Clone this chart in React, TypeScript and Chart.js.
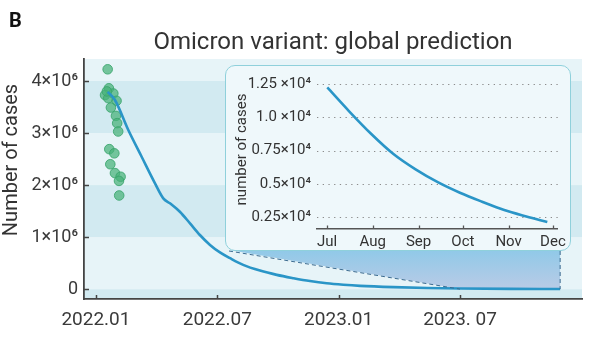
import React, { useEffect, useRef } from "react";
import { Chart, registerables } from "chart.js";

Chart.register(...registerables);

const FONT = "Roboto, 'Noto Sans', 'DejaVu Sans', sans-serif";

// ---------- main chart data (x = months since 2022.01) ----------
const xTickMonths = [0, 6, 12, 18];
const xTickLabels = ["2022.01", "2022.07", "2023.01", "2023. 07"];
const yTickValues = [0, 1000000, 2000000, 3000000, 4000000];
const yTickLabels = ["0", "1×10⁶", "2×10⁶", "3×10⁶", "4×10⁶"];

const fitMonths = [0.58, 0.94, 1.6, 2.26, 2.92, 3.33, 3.66, 4.15, 4.65, 5.14, 5.64, 6.13, 6.63, 7.28, 8.11, 8.94, 9.77, 10.58, 11.41, 12.23, 13.06, 14.7, 16.4, 18.0, 20.5, 22.95];
const fitCases = [3790000, 3635000, 3058000, 2544000, 2033000, 1745000, 1649000, 1487000, 1264000, 1040000, 849000, 705000, 594000, 466000, 356000, 274000, 210000, 155000, 112000, 84000, 63000, 38000, 21000, 12200, 5500, 2200];

const obsMonths = [0.58, 0.64, 0.45, 0.86, 0.61, 1.02, 0.74, 0.99, 1.05, 1.1, 0.66, 0.91, 0.71, 0.94, 1.22, 1.14, 1.15, 0.54];
const obsCases = [4225000, 3860000, 3730000, 3760000, 3670000, 3620000, 3490000, 3330000, 3190000, 3030000, 2690000, 2610000, 2400000, 2230000, 2160000, 2080000, 1800000, 3800000];

const zoomStartMonth = 18;
const zoomEndMonth = 22.95;

// ---------- inset data (x = days since 2023-07-01) ----------
const insetTickDays = [0, 31, 62, 92, 123, 153];
const insetTickLabels = ["Jul", "Aug", "Sep", "Oct", "Nov", "Dec"];
const insetYTicks = [2500, 5000, 7500, 10000, 12500];
const insetYLabels = ["0.25×10⁴", "0.5×10⁴", "0.75×10⁴", "1.0 ×10⁴", "1.25 ×10⁴"];
const insetDays = [0.2, 15, 30, 45, 60, 75, 90, 105, 120, 135, 149.2];
const insetCases = [12234, 10450, 8750, 7250, 6100, 5140, 4350, 3680, 3060, 2580, 2162];

// ---------- layout ----------
const INSET = { left: 225, top: 65, width: 346, height: 186 };
const BAND_LIGHT = "#e7f4f8";
const BAND_DARK = "#d2eaf1";
const LINE_COLOR = "#2a95c7";
const AXIS_COLOR = "#444";

export default function App() {
  const mainRef = useRef<HTMLCanvasElement>(null);
  const insetRef = useRef<HTMLCanvasElement>(null);

  useEffect(() => {
    const mainDecor = {
      id: "mainDecor",
      beforeDraw(chart: any) {
        const { ctx, chartArea: a } = chart;
        const x = chart.scales.x;
        const y = chart.scales.y;
        ctx.save();
        ctx.beginPath();
        ctx.rect(a.left, a.top, a.right - a.left, a.bottom - a.top);
        ctx.clip();
        const step = yTickValues[1] - yTickValues[0];
        for (let v = yTickValues[0] - step; v <= yTickValues[yTickValues.length - 1]; v += step) {
          const k = Math.round(v / step);
          const p0 = y.getPixelForValue(v);
          const p1 = y.getPixelForValue(v + step);
          ctx.fillStyle = k % 2 === 0 ? BAND_LIGHT : BAND_DARK;
          ctx.fillRect(a.left, p1, a.right - a.left, p0 - p1);
        }
        const xa = x.getPixelForValue(zoomStartMonth);
        const xb = x.getPixelForValue(zoomEndMonth);
        const y0 = y.getPixelForValue(0);
        const topY = INSET.top + INSET.height - 1;
        const g = ctx.createLinearGradient(0, topY, 0, y0);
        g.addColorStop(0, "#90c9e8");
        g.addColorStop(1, "#b9cbe6");
        ctx.fillStyle = g;
        ctx.beginPath();
        ctx.moveTo(INSET.left + 4, topY);
        ctx.lineTo(xb, topY);
        ctx.lineTo(xb, y0);
        ctx.lineTo(xa, y0);
        ctx.closePath();
        ctx.fill();
        ctx.restore();
      },
      afterDatasetsDraw(chart: any) {
        const { ctx } = chart;
        const x = chart.scales.x;
        const y = chart.scales.y;
        const xa = x.getPixelForValue(zoomStartMonth);
        const xb = x.getPixelForValue(zoomEndMonth);
        const y0 = y.getPixelForValue(0);
        const bottom = INSET.top + INSET.height;
        ctx.save();
        ctx.strokeStyle = "#3b6b90";
        ctx.lineWidth = 1;
        ctx.setLineDash([4, 3]);
        ctx.beginPath();
        ctx.moveTo(INSET.left + 4, bottom);
        ctx.lineTo(xa, y0);
        ctx.moveTo(xb, bottom);
        ctx.lineTo(xb, y0);
        ctx.stroke();
        ctx.restore();
      },
      afterDraw(chart: any) {
        const { ctx, chartArea: a } = chart;
        const x = chart.scales.x;
        const y = chart.scales.y;
        ctx.save();
        ctx.strokeStyle = AXIS_COLOR;
        ctx.lineWidth = 1.5;
        ctx.beginPath();
        for (const t of x.ticks) {
          const px = Math.round(x.getPixelForValue(t.value)) + 0.5;
          ctx.moveTo(px, a.bottom);
          ctx.lineTo(px, a.bottom - 4);
        }
        for (const t of y.ticks) {
          const py = Math.round(y.getPixelForValue(t.value)) + 0.5;
          ctx.moveTo(a.left, py);
          ctx.lineTo(a.left + 5, py);
        }
        ctx.stroke();
        // title
        ctx.fillStyle = "#333";
        ctx.font = `400 24px ${FONT}`;
        ctx.textAlign = "center";
        ctx.textBaseline = "alphabetic";
        ctx.fillText("Omicron variant: global prediction", (a.left + a.right) / 2, 49);
        // panel letter
        ctx.fillStyle = "#111";
        ctx.font = `700 20px ${FONT}`;
        ctx.textAlign = "left";
        ctx.fillText("B", 9, 27);
        // y title
        ctx.fillStyle = "#333";
        ctx.font = `400 20px ${FONT}`;
        ctx.translate(17, 160);
        ctx.rotate(-Math.PI / 2);
        ctx.textAlign = "center";
        ctx.fillText("Number of cases", 0, 0);
        ctx.restore();
      },
    };

    const main = new Chart(mainRef.current!, {
      type: "scatter",
      data: {
        datasets: [
          {
            type: "line",
            data: fitMonths.map((m, i) => ({ x: m, y: fitCases[i] })),
            borderColor: LINE_COLOR,
            borderWidth: 2.6,
            pointRadius: 0,
            fill: false,
            cubicInterpolationMode: "monotone",
            order: 0,
          } as any,
          {
            type: "scatter",
            data: obsMonths.map((m, i) => ({ x: m, y: obsCases[i] })),
            backgroundColor: "rgba(70,178,120,0.72)",
            borderColor: "rgba(58,165,108,0.85)",
            borderWidth: 1,
            pointRadius: 4.8,
            order: 1,
          } as any,
        ],
      },
      options: {
        responsive: false,
        animation: false,
        layout: { padding: { left: 0, top: 59, right: 18, bottom: 0 } },
        plugins: { legend: { display: false }, tooltip: { enabled: false }, title: { display: false } },
        scales: {
          x: {
            type: "linear",
            min: -0.59,
            max: 24.03,
            afterFit: (s: any) => { s.height = 44; },
            afterBuildTicks: (s: any) => { s.ticks = xTickMonths.map((v) => ({ value: v })); },
            ticks: {
              callback: (v: any) => xTickLabels[xTickMonths.indexOf(Number(v))],
              font: { family: FONT, size: 19 },
              color: "#3a3a3a",
              padding: 10,
              maxRotation: 0,
              autoSkip: false,
            },
            grid: { display: false, drawTicks: false },
            border: { display: true, color: AXIS_COLOR, width: 1.8 },
          },
          y: {
            type: "linear",
            min: -190000,
            max: 4423000,
            afterFit: (s: any) => { s.width = 84; },
            afterBuildTicks: (s: any) => { s.ticks = yTickValues.map((v) => ({ value: v })); },
            ticks: {
              callback: (v: any) => yTickLabels[yTickValues.indexOf(Number(v))],
              font: { family: FONT, size: 18 },
              color: "#3a3a3a",
              padding: 6,
              autoSkip: false,
            },
            grid: { display: false, drawTicks: false },
            border: { display: true, color: AXIS_COLOR, width: 1.8 },
          },
        },
      } as any,
      plugins: [mainDecor],
    });

    const insetDecor = {
      id: "insetDecor",
      beforeDatasetsDraw(chart: any) {
        const { ctx, chartArea: a } = chart;
        const y = chart.scales.y;
        ctx.save();
        ctx.strokeStyle = "#8c8c8c";
        ctx.lineWidth = 1.2;
        ctx.setLineDash([1.3, 4.4]);
        ctx.beginPath();
        for (const t of y.ticks) {
          const py = Math.round(y.getPixelForValue(t.value)) + 0.5;
          ctx.moveTo(a.left, py);
          ctx.lineTo(a.right + 2, py);
        }
        ctx.stroke();
        ctx.restore();
      },
      afterDraw(chart: any) {
        const { ctx, chartArea: a } = chart;
        const x = chart.scales.x;
        ctx.save();
        ctx.strokeStyle = "#555";
        ctx.lineWidth = 1.3;
        ctx.beginPath();
        for (const t of x.ticks) {
          const px = Math.round(x.getPixelForValue(t.value)) + 0.5;
          ctx.moveTo(px, a.bottom);
          ctx.lineTo(px, a.bottom - 3.5);
        }
        ctx.stroke();
        ctx.fillStyle = "#333";
        ctx.font = `400 15px ${FONT}`;
        ctx.translate(20, (a.top + a.bottom) / 2 - 5.5);
        ctx.rotate(-Math.PI / 2);
        ctx.textAlign = "center";
        ctx.textBaseline = "alphabetic";
        ctx.fillText("number of cases", 0, 0);
        ctx.restore();
      },
    };

    const inset = new Chart(insetRef.current!, {
      type: "line",
      data: {
        datasets: [
          {
            data: insetDays.map((d, i) => ({ x: d, y: insetCases[i] })),
            borderColor: LINE_COLOR,
            borderWidth: 2.6,
            pointRadius: 0,
            fill: false,
            cubicInterpolationMode: "monotone",
          } as any,
        ],
      },
      options: {
        responsive: false,
        animation: false,
        layout: { padding: { left: 0, top: 9, right: 12, bottom: 0 } },
        plugins: { legend: { display: false }, tooltip: { enabled: false }, title: { display: false } },
        scales: {
          x: {
            type: "linear",
            min: -6.77,
            max: 156.4,
            afterFit: (s: any) => { s.height = 21; },
            afterBuildTicks: (s: any) => { s.ticks = insetTickDays.map((v) => ({ value: v })); },
            ticks: {
              callback: (v: any) => insetTickLabels[insetTickDays.indexOf(Number(v))],
              font: { family: FONT, size: 15 },
              color: "#333",
              padding: 4,
              maxRotation: 0,
              autoSkip: false,
            },
            grid: { display: false, drawTicks: false },
            border: { display: true, color: "#555", width: 1.5 },
          },
          y: {
            type: "linear",
            min: 1637,
            max: 12716,
            afterFit: (s: any) => { s.width = 91; },
            afterBuildTicks: (s: any) => { s.ticks = insetYTicks.map((v) => ({ value: v })); },
            ticks: {
              callback: (v: any) => insetYLabels[insetYTicks.indexOf(Number(v))],
              font: { family: FONT, size: 15 },
              color: "#333",
              padding: 6,
              autoSkip: false,
            },
            grid: { display: false, drawTicks: false },
            border: { display: false },
          },
        },
      } as any,
      plugins: [insetDecor],
    });

    return () => {
      main.destroy();
      inset.destroy();
    };
  }, []);

  return (
    <div style={{ position: "absolute", left: 0, top: 0, width: 600, height: 343, background: "#fff", overflow: "hidden" }}>
      <canvas ref={mainRef} width={600} height={343} style={{ position: "absolute", left: 0, top: 0 }} />
      <div
        style={{
          position: "absolute",
          left: INSET.left,
          top: INSET.top,
          width: INSET.width,
          height: INSET.height,
          boxSizing: "border-box",
          border: "1px solid #8fd0db",
          borderRadius: 10,
          background: "#eff8fb",
          overflow: "hidden",
        }}
      >
        <canvas ref={insetRef} width={344} height={184} style={{ display: "block" }} />
      </div>
    </div>
  );
}
